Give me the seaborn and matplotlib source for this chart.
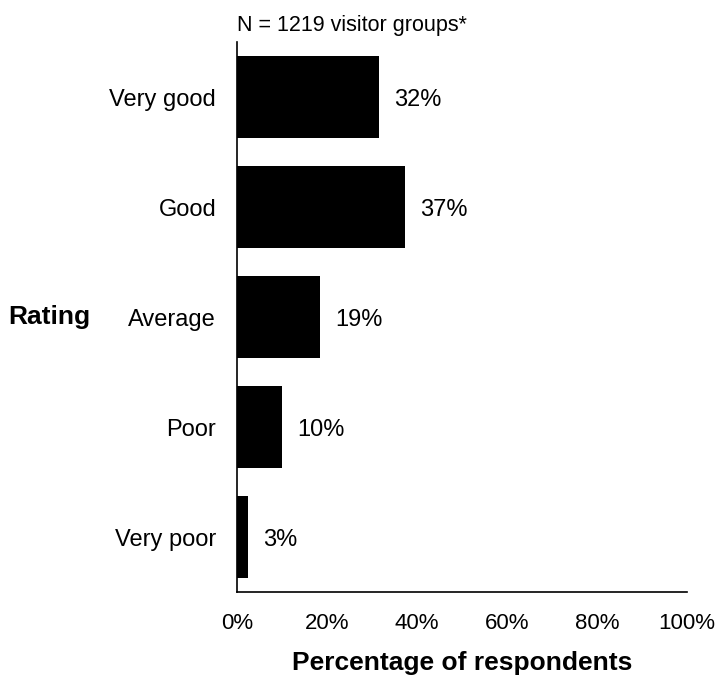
import pandas as pd
import numpy as np
import matplotlib
matplotlib.use("Agg")
import matplotlib.pyplot as plt
import seaborn as sns

# data
ratings = ["Very good", "Good", "Average", "Poor", "Very poor"]
percent = [31.6, 37.3, 18.5, 9.9, 2.5]
labels = ["32%", "37%", "19%", "10%", "3%"]

df = pd.DataFrame({"Rating": ratings, "Percent": percent})

sns.set_style("white")
plt.rcParams["font.family"] = ["Liberation Sans", "DejaVu Sans"]
plt.rcParams["text.color"] = "black"
plt.rcParams["xtick.color"] = "black"
plt.rcParams["ytick.color"] = "black"
plt.rcParams["axes.labelcolor"] = "black"

fig = plt.figure(figsize=(7.21, 6.83), dpi=100)
ax = fig.add_axes([0.3287, 0.1332, 0.6241, 0.8053])

sns.barplot(x="Percent", y="Rating", data=df, color="black",
            width=0.74, orient="h", linewidth=0, ax=ax)

# value labels right of each bar
for i, (v, lab) in enumerate(zip(percent, labels)):
    ax.annotate(lab, xy=(v, i), xytext=(11, -2), textcoords="offset points",
                va="center", ha="left", fontsize=17)

ax.set_xlim(0, 100)
ax.set_ylim(4.5, -0.5)
ax.set_xticks([0, 20, 40, 60, 80, 100])
ax.set_xticklabels([f"{t}%" for t in [0, 20, 40, 60, 80, 100]], fontsize=16)
ax.tick_params(axis="x", direction="out", length=5, width=1.2, pad=10)
ax.tick_params(axis="y", length=0, pad=15, labelsize=17)

sns.despine(ax=ax)
for s in ["left", "bottom"]:
    ax.spines[s].set_color("black")
    ax.spines[s].set_linewidth(1.2)

ax.set_xlabel("Percentage of respondents", fontsize=19, fontweight="bold", labelpad=12)
ax.set_ylabel("Rating", fontsize=19, fontweight="bold", rotation=0)
ax.yaxis.set_label_coords(-0.509, 0.5)
ax.yaxis.label.set_ha("left")
ax.yaxis.label.set_va("center")
ax.set_title("N = 1219 visitor groups*", loc="left", fontsize=15.5, pad=8)

fig.savefig("out.png", dpi=100)
